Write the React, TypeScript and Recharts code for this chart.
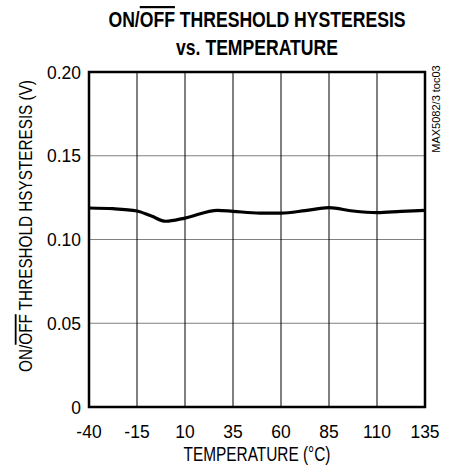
import React from "react";
import {
  LineChart,
  Line,
  XAxis,
  YAxis,
  CartesianGrid,
  ReferenceArea,
} from "recharts";

const temperatures = [-40, -27.5, -15, -7.5, 0, 10, 27, 35, 49, 60, 72.5, 85, 97.5, 110, 122.5, 135];
const hysteresis = [0.1188, 0.1184, 0.117, 0.114, 0.1109, 0.1128, 0.1174, 0.1168, 0.1158, 0.1158, 0.1172, 0.119, 0.117, 0.1161, 0.1168, 0.1174];
const xTicks = [-40, -15, 10, 35, 60, 85, 110, 135];
const yTicks = [0, 0.05, 0.1, 0.15, 0.2];
const yTickLabels = ["0", "0.05", "0.10", "0.15", "0.20"];

const data = temperatures.map((t, i) => ({ t, v: hysteresis[i] }));

const FONT = "'Liberation Sans', Arial, Helvetica, sans-serif";
const TICK_SCALE = 0.92;

const W = 449;
const H = 471;

function XTick(props: any) {
  const { x, y, payload } = props;
  return (
    <g transform={`translate(${x},${y})`}>
      <text
        transform={`scale(${TICK_SCALE},1)`}
        x={0}
        y={0}
        dy="0.71em"
        textAnchor="middle"
        fontFamily={FONT}
        fontSize={19}
        fill="#000"
      >
        {String(payload.value)}
      </text>
    </g>
  );
}

function YTick(props: any) {
  const { x, y, payload } = props;
  const idx = yTicks.indexOf(payload.value);
  const label = idx >= 0 ? yTickLabels[idx] : String(payload.value);
  return (
    <g transform={`translate(${x},${y})`}>
      <text
        transform={`scale(${TICK_SCALE},1)`}
        x={0}
        y={0}
        dy="0.355em"
        textAnchor="end"
        fontFamily={FONT}
        fontSize={19}
        fill="#000"
      >
        {label}
      </text>
    </g>
  );
}

function XLabel(props: any) {
  const vb = props.viewBox || { x: 89, y: 407, width: 336, height: 64 };
  const cx = vb.x + vb.width / 2;
  const cy = 461;
  return (
    <g transform={`translate(${cx},${cy}) scale(0.77,1)`}>
      <text x={0} y={0} textAnchor="middle" fontFamily={FONT} fontSize={20} fill="#000">
        TEMPERATURE (°C)
      </text>
    </g>
  );
}

export default function App() {
  return (
    <div style={{ position: "absolute", left: 0, top: 0, width: W, height: H, background: "#fff" }}>
      <LineChart
        width={W}
        height={H}
        data={data}
        margin={{ top: 72, right: 24, bottom: 0, left: 0 }}
        style={{ fontFamily: FONT }}
      >
        <CartesianGrid horizontal={true} vertical={false} stroke="#808080" strokeWidth={1} />
        <CartesianGrid horizontal={false} vertical={true} stroke="#000" strokeWidth={1} />
        <XAxis
          dataKey="t"
          type="number"
          domain={[-40, 135]}
          ticks={xTicks}
          interval={0}
          axisLine={false}
          tickLine={false}
          tickMargin={12}
          height={64}
          tick={<XTick />}
          label={<XLabel />}
        />
        <YAxis
          type="number"
          domain={[0, 0.2]}
          ticks={yTicks}
          interval={0}
          width={89}
          axisLine={false}
          tickLine={false}
          tick={<YTick />}
        />
        <ReferenceArea
          x1={-40}
          x2={135}
          y1={0}
          y2={0.2}
          fill="none"
          fillOpacity={0}
          stroke="#000"
          strokeWidth={2.5}
          ifOverflow="visible"
        />
        <Line
          type="monotone"
          dataKey="v"
          stroke="#000"
          strokeWidth={3.2}
          dot={false}
          isAnimationActive={false}
        />
      </LineChart>
      <svg
        width={W}
        height={H}
        style={{ position: "absolute", left: 0, top: 0, pointerEvents: "none" }}
      >
        <g transform="translate(257,27) scale(0.8,1)">
          <text x={0} y={0} textAnchor="middle" fontFamily={FONT} fontWeight="bold" fontSize={22} fill="#000">
            ON/<tspan style={{ textDecoration: "overline" }}>OFF</tspan> THRESHOLD HYSTERESIS
          </text>
        </g>
        <g transform="translate(257,55) scale(0.8,1)">
          <text x={0} y={0} textAnchor="middle" fontFamily={FONT} fontWeight="bold" fontSize={22} fill="#000">
            vs. TEMPERATURE
          </text>
        </g>
        <g transform="translate(32,226) rotate(-90) scale(0.85,1)">
          <text x={0} y={0} textAnchor="middle" fontFamily={FONT} fontSize={18} fill="#000">
            ON/<tspan style={{ textDecoration: "overline" }}>OFF</tspan> THRESHOLD HSYSTERESIS (V)
          </text>
        </g>
        <g transform="translate(440,109) rotate(-90)">
          <text x={0} y={0} textAnchor="middle" fontFamily={FONT} fontSize={11} fill="#000">
            MAX5082/3 toc03
          </text>
        </g>
      </svg>
    </div>
  );
}
